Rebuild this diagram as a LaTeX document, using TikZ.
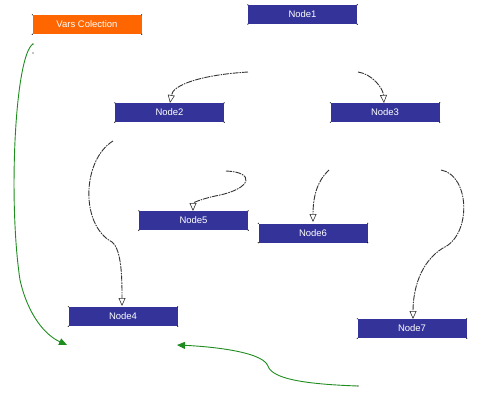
\documentclass[tikz,border=0pt]{standalone}
\usepackage{fontspec}
\setmainfont{Liberation Sans}
\usetikzlibrary{arrows.meta}
\definecolor{nodeblue}{HTML}{333399}
\definecolor{varsorange}{HTML}{FF6600}
\definecolor{linkgray}{HTML}{333333}
\definecolor{linkgreen}{HTML}{1E8C1E}
\tikzset{
  box/.style={fill=nodeblue, text=white, minimum width=109pt, minimum height=19pt, inner sep=0pt,
    font=\fontsize{9.5}{10}\selectfont},
  varsbox/.style={box, fill=varsorange},
  link/.style={draw=linkgray, line width=0.9pt, dash pattern=on 6pt off 1pt on 1.5pt off 1pt,
    -{Triangle[length=8pt, width=7pt, fill=white, line width=0.6pt]}},
  glink/.style={draw=linkgreen, line width=0.9pt, -{Triangle[length=8pt, width=7pt, fill=linkgreen]}},
  handle/.style={fill=black, inner sep=0pt, minimum size=1.2pt}
}
\begin{document}
\begin{tikzpicture}[x=1pt, y=-1pt]
\useasboundingbox (0,0) rectangle (486,408);
\node[varsbox] (vars) at (87,24.5) {Vars Colection};
\node[box] (n1) at (302.5,14.5) {Node1};
\node[box] (n2) at (169.5,112.5) {Node2};
\node[box] (n3) at (385,112.5) {Node3};
\node[box] (n5) at (193.5,220.5) {Node5};
\node[box] (n6) at (313,233) {Node6};
\node[box] (n7) at (412,328.5) {Node7};
\node[box] (n4) at (123,316.5) {Node4};
\foreach \n in {vars,n1,n2,n3,n4,n5,n6,n7}{
  \foreach \a in {north west,north east,south west,south east}{
    \fill (\n.\a) circle (0.6pt);
  }
}
% free ends
\coordinate (s12) at (248,72);
\coordinate (t12) at (170,103);
\coordinate (s13) at (358,72);
\coordinate (t13) at (384,103);
\coordinate (s24) at (113,141);
\coordinate (m24) at (112,242);
\coordinate (t24) at (122,306);
\coordinate (s35) at (226,171);
\coordinate (m35) at (220,195);
\coordinate (t35) at (193,211);
\coordinate (s36) at (329,170);
\coordinate (t36) at (313,222);
\coordinate (s37) at (441,170);
\coordinate (m37) at (443,248);
\coordinate (t37) at (413,319);
\coordinate (gs1) at (33,44);
\coordinate (gm1) at (20,280);
\coordinate (gt1) at (67,345);
\coordinate (gs2) at (358,386);
\coordinate (gm2) at (268,366);
\coordinate (gt2) at (177,345);
\fill (gs1) circle (0.7pt);
\fill (33,53) circle (0.6pt);
\fill (gs2) circle (0.7pt);
\draw[link] (s12) .. controls (200,75) and (173,85) .. (t12);
\draw[link] (s13) .. controls (372,74) and (383,88) .. (t13);
\draw[link] (s24) .. controls (82,160) and (80,225) .. (m24) .. controls (122,250) and (122,280) .. (t24);
\draw[link] (s35) .. controls (255,172) and (252,188) .. (m35) .. controls (200,199) and (193,203) .. (t35);
\draw[link] (s36) .. controls (318,180) and (313,195) .. (t36);
\draw[link] (s37) .. controls (470,175) and (472,235) .. (m37) .. controls (420,262) and (413,290) .. (t37);
\draw[glink] (gs1) .. controls (15,55) and (8,200) .. (gm1) .. controls (28,315) and (45,335) .. (gt1);
\draw[glink] (gs2) .. controls (300,384) and (272,378) .. (gm2) .. controls (262,350) and (200,346) .. (gt2);
\end{tikzpicture}
\end{document}
